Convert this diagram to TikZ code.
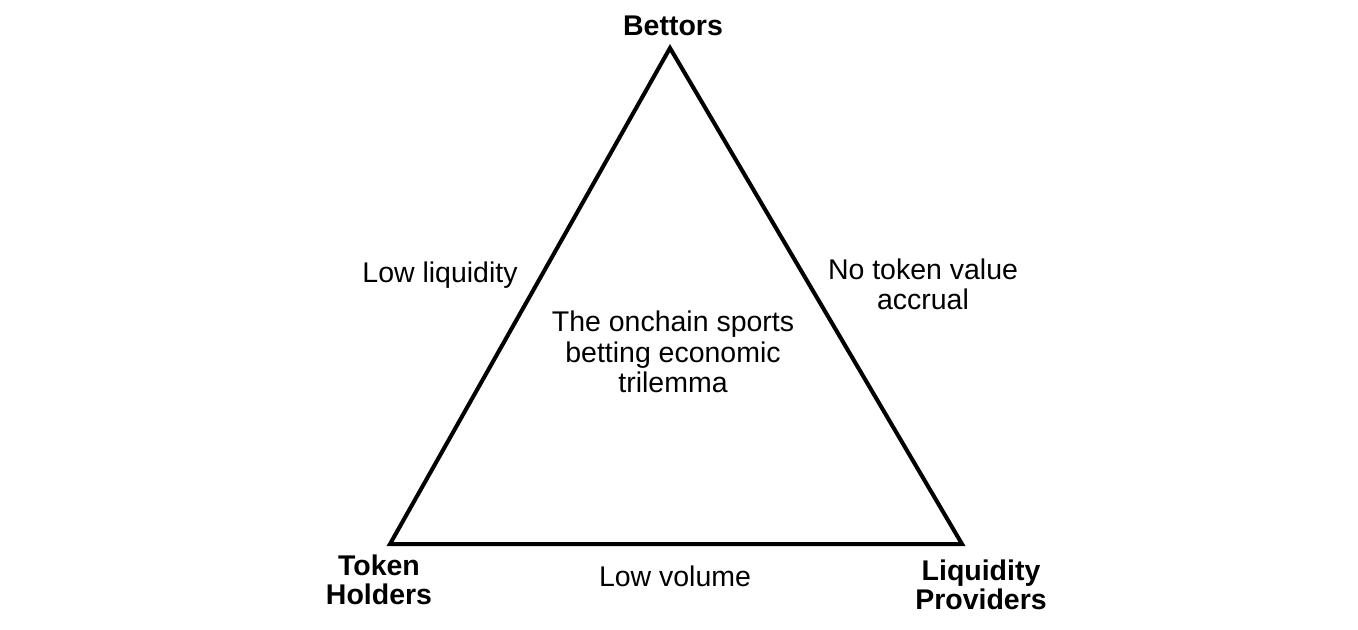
\documentclass[tikz,border=0pt]{standalone}
\usepackage{fontspec}
\setmainfont{Liberation Sans}
\begin{document}
\begin{tikzpicture}[x=0.01cm,y=-0.01cm,
  lbl/.style={font=\fontsize{8.1}{8.6}\selectfont,align=center,inner sep=0pt},
  vtx/.style={lbl,font=\fontsize{8.1}{8.3}\selectfont\bfseries}]
\useasboundingbox (0,0) rectangle (1358,629);
\coordinate (T) at (670,48);
\coordinate (L) at (390,544);
\coordinate (R) at (962,544);
\draw[line width=1.15pt,line join=miter] (T) -- (R) -- (L) -- cycle;
\node[vtx] (bet) at (673,26) {Bettors};
\node[vtx] (th) at (379,580) {Token\\Holders};
\node[vtx] (lp) at (981,585) {Liquidity\\Providers};
\node[lbl] (ll) at (440,275) {Low liquidity};
\node[lbl] (nt) at (923,284) {No token value\\accrual};
\node[lbl] (c) at (673,352) {The onchain sports\\betting economic\\trilemma};
\node[lbl] (lv) at (675,576) {Low volume};
\end{tikzpicture}
\end{document}
